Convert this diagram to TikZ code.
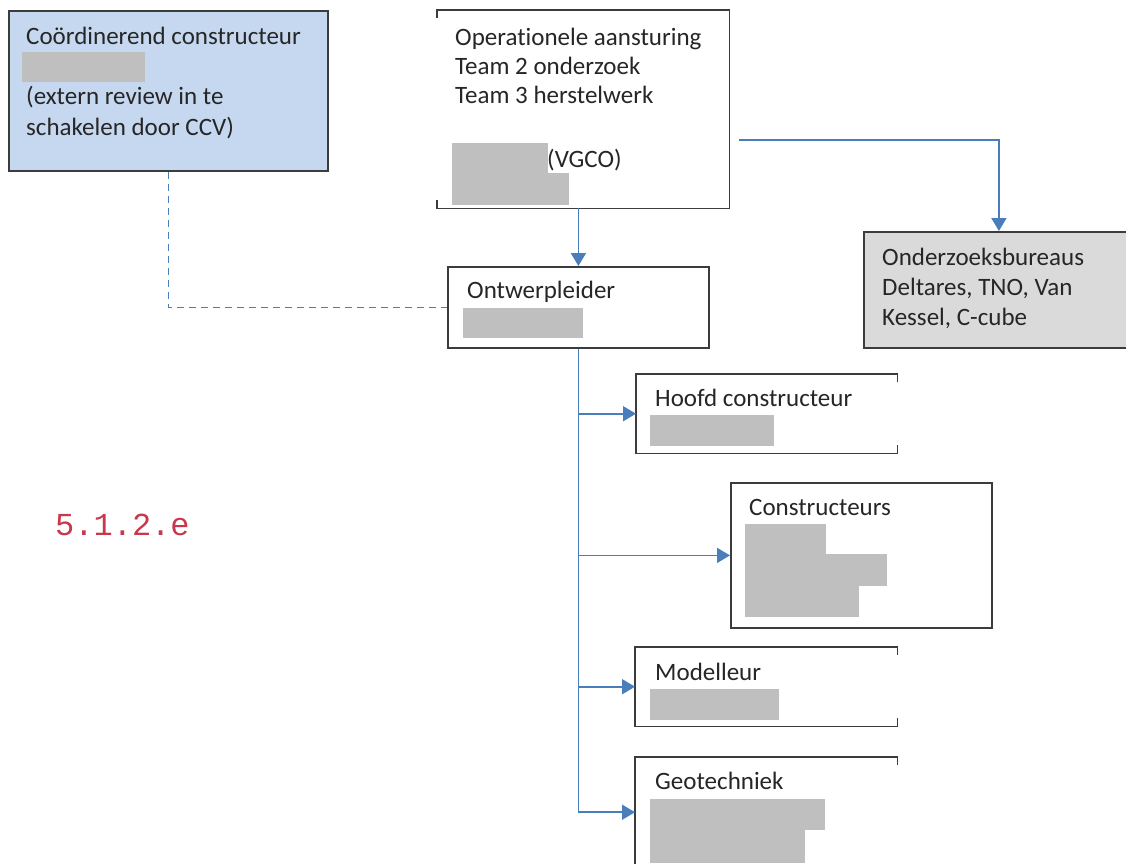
\documentclass[tikz,border=0pt]{standalone}
\usepackage{fontspec}
\setmainfont{Carlito}[Ligatures={NoCommon}]
\newfontfamily\monof{Liberation Mono}
\usetikzlibrary{arrows.meta}
\definecolor{bluefill}{HTML}{C6D8F0}
\definecolor{grayfill}{HTML}{DADADA}
\definecolor{redact}{HTML}{BFBFBF}
\definecolor{conncol}{HTML}{4A7EBB}
\definecolor{boxline}{HTML}{3C3C3C}
\definecolor{redtxt}{HTML}{C8384C}
\begin{document}
\begin{tikzpicture}[x=1pt,y=-1pt,
  box/.style={draw=boxline, line width=1.8pt, inner sep=0pt, anchor=north west},
  openbox/.style={draw=none, inner sep=0pt, anchor=north west},
  edge/.style={draw=boxline, line width=1.8pt},
  txt/.style={anchor=base west, inner sep=0pt, font=\fontsize{25}{29}\selectfont, text=black!85},
  conn/.style={draw=conncol, line width=1.8pt},
  arr/.style={conn, -{Triangle[length=13pt,width=15pt]}},
  hide/.style={fill=redact}]
\useasboundingbox (0,0) rectangle (1126,863);
\clip (0,0) rectangle (1126,863);
\fill[white] (0,0) rectangle (1126,863);

% boxes
\node[box, fill=bluefill, minimum width=319pt, minimum height=160pt] (coord) at (8,10) {};
\node[openbox, minimum width=292pt, minimum height=198pt] (op) at (437,10) {};
\draw[edge] ([yshift=-8pt]op.north west) -- (op.north west) -- (op.north east) -- (op.south east) -- (op.south west) -- ([yshift=8pt]op.south west);
\node[box, fill=grayfill, minimum width=270pt, minimum height=116pt] (onderz) at (863,231) {};
\node[box, fill=white, minimum width=261pt, minimum height=81pt] (ontw) at (447,266) {};
\node[openbox, minimum width=261pt, minimum height=79pt] (hoofd) at (636,374) {};
\draw[edge] ([yshift=-8pt]hoofd.north east) -- (hoofd.north east) -- (hoofd.north west) -- (hoofd.south west) -- (hoofd.south east) -- ([yshift=8pt]hoofd.south east);
\node[box, minimum width=261pt, minimum height=145pt] (constr) at (730,482) {};
\node[openbox, minimum width=262pt, minimum height=79pt] (model) at (635,647) {};
\draw[edge] ([yshift=-8pt]model.north east) -- (model.north east) -- (model.north west) -- (model.south west) -- (model.south east) -- ([yshift=8pt]model.south east);
\node[openbox, minimum width=262pt, minimum height=110pt] (geo) at (635,757) {};
\draw[edge] ([yshift=-8pt]geo.north east) -- (geo.north east) -- (geo.north west) -- (geo.south west);

% texts
\node[txt] (t1a) at (26,44) {Coördinerend constructeur};
\fill[hide] (22,52) rectangle (145,82);
\node[txt] (t1b) at (26,104) {(extern review in te};
\node[txt] (t1c) at (26,135) {schakelen door CCV)};

\node[txt] (t2a) at (455,45) {Operationele aansturing};
\node[txt] (t2b) at (455,74) {Team 2 onderzoek};
\node[txt] (t2c) at (455,103) {Team 3 herstelwerk};
\fill[hide] (452,143) rectangle (548,205);
\fill[hide] (548,173) rectangle (569,205);
\node[txt] (t2d) at (547,167) {(VGCO)};

\node[txt] (t3a) at (882,265) {Onderzoeksbureaus};
\node[txt] (t3b) at (882,295) {Deltares, TNO, Van};
\node[txt] (t3c) at (882,325) {Kessel, C-cube};

\node[txt] (t4) at (467,298) {Ontwerpleider};
\fill[hide] (463,308) rectangle (583,338);

\node[txt] (t5) at (655,406) {Hoofd constructeur};
\fill[hide] (650,415) rectangle (774,446);

\node[txt] (t6) at (749,515) {Constructeurs};
\fill[hide] (745,524) rectangle (826,617);
\fill[hide] (826,554) rectangle (887,586);
\fill[hide] (826,586) rectangle (859,617);

\node[txt] (t7) at (655,680) {Modelleur};
\fill[hide] (650,689) rectangle (779,720);

\node[txt] (t8) at (655,789) {Geotechniek};
\fill[hide] (650,799) rectangle (825,830);
\fill[hide] (650,830) rectangle (805,863);

\node[anchor=base west, inner sep=0pt, font=\monof\fontsize{32}{36}\selectfont, text=redtxt] (code) at (55,535) {5.1.2.e};

% connectors
\draw[arr] (ontw.north |- op.south) -- (ontw.north);
\draw[arr] ([shift={(10pt,-31pt)}]op.east) -| (onderz.north);
\draw[conn, dashed, dash pattern=on 7pt off 5pt] (coord.south) |- (ontw.west);
\draw[conn] (ontw.south) -- (ontw.south |- geo.west);
\draw[arr] (ontw.south |- hoofd.west) -- (hoofd.west);
\draw[arr] (ontw.south |- constr.west) -- (constr.west);
\draw[arr] (ontw.south |- model.west) -- (model.west);
\draw[arr] (ontw.south |- geo.west) -- (geo.west);
\end{tikzpicture}
\end{document}
